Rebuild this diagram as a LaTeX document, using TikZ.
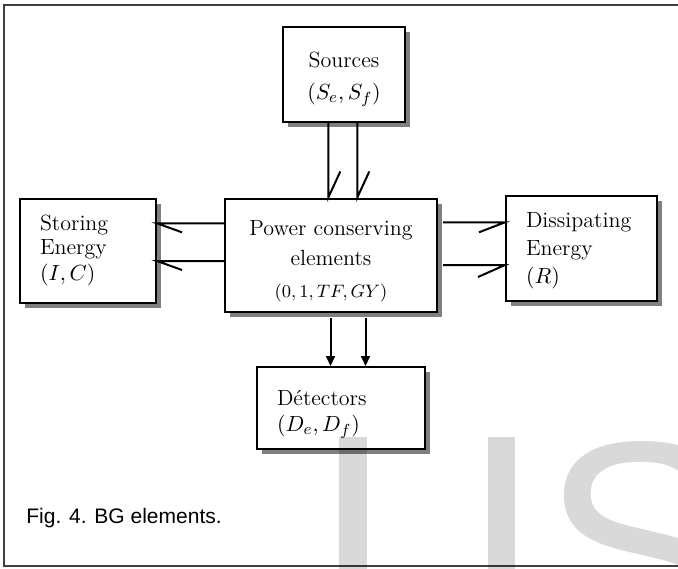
\documentclass[tikz,border=0pt]{standalone}
\usepackage{fontspec}
\newfontfamily\capfont{Liberation Sans}
\usetikzlibrary{arrows.meta,shadows}

\tikzset{
  box/.style={draw, line width=1pt, fill=white, inner ysep=0pt,
    font=\fontsize{11}{13}\selectfont,
    drop shadow={shadow xshift=2.5pt, shadow yshift=-2.5pt, fill=black!50, opacity=1}},
  leftbox/.style={box, align=left, inner xsep=10pt},
  bond/.style={line width=1pt},
  sig/.style={line width=1pt, -{Triangle[length=5pt,width=4.5pt]}},
  mark wm/.style={fill=black, fill opacity=0.15, draw=none}
}

\begin{document}
\begin{tikzpicture}[x=0.5pt, y=-0.5pt]
        \useasboundingbox (0,0) rectangle (678,568);
        % frame
        \draw[line width=1pt, black!75] (690,5) -- (4,5) -- (4,566) -- (690,566);
        % boxes
        \node[box, align=center, minimum width=61pt, minimum height=47.5pt] (src) at (344,74.5)
            {\rule{0pt}{12.5pt}Sources\\[3pt]$\bigl(S_e,S_f\bigr)$};
        \node[leftbox, text width=48pt, minimum height=52.25pt] (sto) at (88,250.75)
            {Storing\\[-1pt]Energy\\$(I, C)$};
        \node[box, align=center, minimum width=106pt, minimum height=56.5pt] (pce) at (331,255)
            {\rule{0pt}{13.5pt}Power conserving\\[2pt]elements\\[3pt]{\fontsize{9.5}{11}\selectfont$(0,1,TF,GY)$}};
        \node[leftbox, text width=55.5pt, minimum height=52.5pt] (dis) at (581.5,248)
            {\rule{0pt}{10.6pt}Dissipating\\[1pt]Energy\\[1pt]$(R)$};
        \node[leftbox, text width=63.75pt, minimum height=41pt] (det) at (340.75,408)
            {\rule{0pt}{14pt}D\'etectors\\[0pt]$\bigl(D_e, D_f\bigr)$};
        % bonds
        \draw[bond] ([xshift=-7.85pt]src.south) -- ([xshift=-7.85pt]src.south |- pce.north) -- ++(12,-26);
        \draw[bond] ([xshift=6.65pt]src.south) -- ([xshift=6.65pt]src.south |- pce.north) -- ++(12,-26);
        \draw[bond] ([yshift=15.85pt]pce.west) -- ([yshift=15.85pt]pce.west -| sto.east) -- ++(25,9);
        \draw[bond] ([yshift=-3pt]pce.west) -- ([yshift=-3pt]pce.west -| sto.east) -- ++(25,9);
        \draw[bond] ([xshift=2.5pt,yshift=16.35pt]pce.east) -- ([yshift=16.35pt]pce.east -| dis.west) -- ++(-26,10);
        \draw[bond] ([xshift=2.5pt,yshift=-5pt]pce.east) -- ([yshift=-5pt]pce.east -| dis.west) -- ++(-27,12);
        % signals
        \draw[sig] ([xshift=-0.25pt,yshift=-2.75pt]pce.south) -- ([xshift=-0.25pt]pce.south |- det.north);
        \draw[sig] ([xshift=17.25pt,yshift=-2.75pt]pce.south) -- ([xshift=17.25pt]pce.south |- det.north);
        % caption
        \node[anchor=base west, inner sep=0pt, font=\capfont\fontsize{10.5}{12}\selectfont] (cap) at (26,523.5)
            {Fig. 4. BG elements.};
        % watermark
        \fill[mark wm] (339.4,436.6) rectangle (366.6,570);
        \fill[mark wm] (487.7,436.6) rectangle (514.5,570);
        \node[anchor=base west, inner sep=0pt, text=black, text opacity=0.15,
            font=\capfont\fontsize{147.5}{150}\selectfont] (wm) at (541.5,647) {S};
    \end{tikzpicture}
\end{document}
